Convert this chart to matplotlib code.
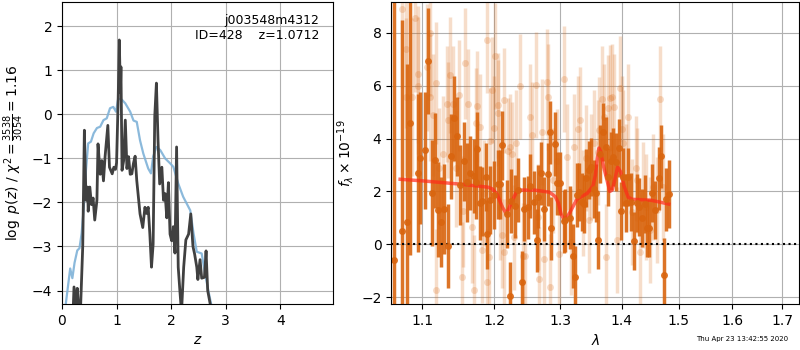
import matplotlib
matplotlib.use("Agg")
import matplotlib.pyplot as plt
from matplotlib.ticker import FixedLocator, FormatStrFormatter, NullLocator

# p(z) curves
z_chi = [0.06, 0.10, 0.15, 0.19, 0.23, 0.28, 0.32, 0.36, 0.40, 0.44, 0.48, 0.53, 0.58,
         0.64, 0.70, 0.76, 0.82, 0.88, 0.94, 0.99, 1.03, 1.10, 1.16, 1.25, 1.31, 1.37,
         1.43, 1.49, 1.58, 1.63, 1.67, 1.73, 1.80, 1.89, 1.98, 2.04, 2.13, 2.22, 2.35,
         2.41, 2.47, 2.56, 2.62, 2.68, 2.74, 2.80]
chi_val = [-4.4, -4.0, -3.5, -3.72, -3.37, -3.09, -3.04, -2.70, -2.09, -1.26, -0.66, -0.62,
           -0.43, -0.31, -0.28, -0.13, -0.09, 0.14, 0.17, 0.06, 0.36, 0.33, 0.25, 0.06,
           -0.14, -0.17, -0.59, -0.89, -1.23, -1.34, -0.96, -0.74, -0.81, -1.0, -1.11,
           -1.19, -1.57, -1.87, -2.18, -2.70, -3.12, -3.16, -3.61, -3.99, -4.35, -4.8]

z_pz = [0.20, 0.22, 0.26, 0.28, 0.31, 0.34, 0.38, 0.41, 0.44, 0.47, 0.48, 0.51, 0.54, 0.57,
        0.60, 0.64, 0.66, 0.70, 0.73, 0.76, 0.79, 0.84, 0.87, 0.92, 0.95, 0.98, 1.00, 1.03,
        1.05, 1.07, 1.08, 1.10, 1.13, 1.16, 1.19, 1.22, 1.25, 1.28, 1.31, 1.34, 1.37, 1.43,
        1.48, 1.52, 1.55, 1.58, 1.61, 1.64, 1.67, 1.70, 1.73, 1.76, 1.79, 1.83, 1.86, 1.89,
        1.92, 1.95, 1.98, 2.01, 2.04, 2.07, 2.10, 2.13, 2.16, 2.19, 2.23, 2.27, 2.32, 2.36,
        2.40, 2.43, 2.47, 2.49, 2.53, 2.56, 2.61, 2.64, 2.67, 2.70, 2.73, 2.76]
pz_val = [-4.6, -3.92, -4.4, -3.95, -4.5, -4.4, -3.0, -0.36, -1.95, -1.65, -2.2, -1.65,
          -2.05, -1.9, -2.4, -1.95, -0.67, -1.36, -1.05, -1.51, -0.95, -0.25, -1.2, -1.35,
          -1.2, -1.25, -1.1, 0.37, 1.69, 0.5, 1.08, -1.27, -1.05, -0.13, -1.23, -0.96,
          -1.36, -1.35, -1.11, -0.95, -1.5, -2.26, -2.57, -2.11, -2.25, -2.11, -2.72,
          -3.47, -2.95, -0.04, 0.71, -0.6, -1.58, -1.2, -1.95, -1.8, -2.35, -1.55, -2.72,
          -2.87, -2.55, -3.15, -0.74, -3.47, -4.0, -4.5, -3.47, -2.85, -2.72, -2.26, -3.0,
          -3.17, -3.47, -3.75, -3.3, -3.72, -3.7, -3.10, -4.0, -4.2, -4.4, -4.8]

# spectrum, good points
lam_a = [1.063, 1.073, 1.080, 1.084, 1.094, 1.097, 1.104, 1.108, 1.113, 1.117, 1.121, 1.125,
         1.129, 1.135, 1.139, 1.143, 1.147, 1.151, 1.157, 1.161, 1.165, 1.171, 1.174, 1.176,
         1.179, 1.183, 1.188, 1.190, 1.194, 1.199, 1.205, 1.208, 1.212, 1.218, 1.223, 1.224,
         1.230, 1.235, 1.241, 1.244, 1.250, 1.253, 1.259, 1.264, 1.265, 1.270, 1.274, 1.280,
         1.283, 1.286, 1.291, 1.295, 1.300, 1.305, 1.308, 1.315, 1.320, 1.323, 1.326, 1.329,
         1.334, 1.338, 1.341, 1.346, 1.349, 1.354, 1.357, 1.360, 1.364, 1.369, 1.374, 1.377,
         1.382, 1.385, 1.390, 1.395, 1.398, 1.402, 1.407, 1.411, 1.416, 1.421, 1.426, 1.430,
         1.435, 1.440, 1.444, 1.447, 1.453, 1.458, 1.465, 1.468, 1.473, 1.477, 1.482]
flux_a = [-0.6, 0.49, 0.83, 4.6, 2.7, 3.25, 3.55, 6.93, 1.93, 3.18, 1.3, 0.83, 1.33, -0.07,
          3.33, 4.77, 4.09, 2.24, 3.14, 2.35, 2.7, 2.58, 2.35, 3.6, 1.55, 1.63, 2.54, 0.38,
          1.67, 1.86, 2.27, 2.27, 3.74, 1.14, -1.97, 1.63, 1.44, 2.05, -1.44, 1.33, 1.4, 2.2,
          1.59, 0.15, 1.8, 2.69, 1.33, 2.65, 4.24, 0.6, 3.79, 2.31, 2.3, 0.87, 0.9, 1.0, -0.45,
          -1.25, 1.86, 1.97, 1.6, 1.52, 2.5, 2.8, 2.92, 2.08, 1.93, 0.15, 3.4, 4.24, 3.7, 2.54,
          3.14, 3.3, 3.1, 3.64, 1.25, 2.54, 1.55, 2.54, 1.59, 0.11, 1.55, 1.4, 1.0, 1.52, 0.6,
          0.6, 1.93, 1.28, 2.5, 3.33, -1.15, 1.7, 1.9]
err_a = [12.0, 8.0, 6.0, 5.0, 3.0, 2.5, 2.2, 2.0, 2.0, 1.8, 1.8, 1.7, 1.7, 1.6, 1.6, 1.6,
         1.5, 1.5, 1.5, 1.5, 1.4, 1.4, 1.4, 1.4, 1.4, 1.3, 1.3, 1.3, 1.3, 1.3, 1.3, 1.3, 1.3,
         1.3, 1.3, 1.2, 1.2, 1.2, 1.2, 1.2, 1.2, 1.2, 1.2, 1.2, 1.2, 1.2, 1.2, 1.2, 1.2, 1.2,
         1.2, 1.2, 1.2, 1.2, 1.2, 1.2, 1.2, 1.2, 1.2, 1.1, 1.1, 1.1, 1.1, 1.1, 1.1, 1.1, 1.1,
         1.1, 1.1, 1.1, 1.1, 1.1, 1.1, 1.1, 1.1, 1.1, 1.1, 1.1, 1.1, 1.1, 1.1, 1.1, 1.1, 1.1,
         1.1, 1.1, 1.1, 1.1, 1.1, 1.1, 1.2, 1.2, 1.4, 1.2, 1.3]

# spectrum, second beam (faint)
lam_b = [1.073, 1.078, 1.078, 1.087, 1.090, 1.094, 1.095, 1.107, 1.110, 1.110, 1.114, 1.118,
         1.119, 1.122, 1.128, 1.133, 1.135, 1.138, 1.142, 1.146, 1.150, 1.154, 1.156, 1.158,
         1.163, 1.168, 1.171, 1.174, 1.176, 1.179, 1.183, 1.185, 1.189, 1.190, 1.192, 1.194,
         1.197, 1.199, 1.201, 1.205, 1.206, 1.209, 1.211, 1.214, 1.215, 1.220, 1.223, 1.226,
         1.229, 1.232, 1.238, 1.242, 1.246, 1.253, 1.256, 1.262, 1.265, 1.267, 1.271, 1.274,
         1.279, 1.280, 1.283, 1.288, 1.294, 1.298, 1.305, 1.311, 1.316, 1.321, 1.328, 1.331,
         1.336, 1.341, 1.346, 1.349, 1.354, 1.360, 1.362, 1.367, 1.370, 1.374, 1.377, 1.380,
         1.384, 1.387, 1.392, 1.397, 1.400, 1.402, 1.407, 1.411, 1.418, 1.425, 1.426, 1.432,
         1.437, 1.442, 1.449, 1.454, 1.461, 1.467, 1.472]
flux_b = [8.9, 7.4, 5.57, 5.57, 8.55, 6.44, 6.0, 6.7, 8.0, 5.57, 4.9, -1.74, 6.1, 2.87, 3.4,
          5.3, 4.7, 6.4, 5.3, 2.87, 5.64, -1.25, 1.25, 6.86, 5.3, 0.64, -1.74, 4.58, 5.23,
          4.43, -0.23, 1.93, -1.44, 7.73, -0.49, 3.9, 5.83, 4.39, 7.12, 5.26, 4.96, 1.4, 0.34,
          5.45, -0.3, 3.53, 3.7, 3.4, 0.26, 3.83, 5.98, -0.45, -0.45, 4.81, 4.13, 6.02, 1.02,
          -1.33, 4.24, -0.57, 6.14, 5.57, -1.63, 2.42, 3.14, -0.38, 6.25, 3.3, 0.08, 3.68,
          4.36, 4.7, 1.55, 3.26, 0.91, 2.92, 3.83, 3.48, 4.32, 5.49, 4.81, -0.49, 5.15, 5.53,
          5.57, 5.19, 0.15, 5.9, 4.36, 3.83, 2.54, 4.81, 1.21, 2.87, 2.42, -0.3, 1.86, 1.40,
          0.53, 2.16, 1.29, 5.49, 2.16]
err_b = [3.0, 3.0, 3.0, 3.0, 2.8, 2.6, 2.6, 2.4, 2.4, 2.4, 2.3, 2.3, 2.3, 2.3, 2.2, 2.2, 2.2,
         2.2, 2.2, 2.2, 2.1, 2.1, 2.1, 2.1, 2.1, 2.1, 2.1, 2.1, 2.1, 2.0, 2.0, 2.0, 2.0, 2.0,
         2.0, 2.0, 2.0, 2.0, 2.0, 2.0, 2.0, 2.0, 2.0, 2.0, 2.0, 2.0, 2.0, 2.0, 2.0, 2.0, 2.0,
         2.0, 2.0, 2.0, 2.0, 2.0, 2.0, 2.0, 2.0, 2.0, 2.0, 2.0, 2.0, 2.0, 2.0, 2.0, 2.0, 2.0,
         2.0, 2.0, 2.0, 2.0, 2.0, 2.0, 2.0, 2.0, 2.0, 2.0, 2.0, 2.0, 2.0, 2.0, 2.0, 2.0, 2.0,
         2.0, 2.0, 2.0, 2.0, 2.0, 2.0, 2.0, 2.0, 2.0, 2.0, 2.0, 2.0, 2.0, 2.0, 2.0, 2.0, 2.0,
         2.0]

# best-fit model
lam_m = [1.071, 1.10, 1.15, 1.191, 1.197, 1.204, 1.208, 1.212, 1.218, 1.224, 1.232, 1.240,
         1.260, 1.283, 1.292, 1.297, 1.301, 1.305, 1.310, 1.316, 1.326, 1.343, 1.352, 1.356,
         1.359, 1.362, 1.365, 1.369, 1.374, 1.380, 1.384, 1.388, 1.393, 1.398, 1.404, 1.411,
         1.418, 1.449, 1.465, 1.482]
flux_m = [2.46, 2.40, 2.28, 2.16, 2.10, 1.90, 1.65, 1.4, 1.14, 1.5, 1.95, 2.05, 2.05, 1.97,
          1.80, 1.55, 1.15, 0.95, 1.0, 1.25, 1.7, 1.93, 2.2, 2.6, 3.2, 3.64, 3.5, 3.0, 2.54,
          2.0, 2.05, 2.4, 2.92, 2.75, 2.2, 1.78, 1.7, 1.67, 1.6, 1.52]

xticks_r = [1.1, 1.2, 1.3, 1.4, 1.5, 1.6, 1.7]

fig = plt.figure(figsize=(8, 3.5), dpi=100)
ax1 = fig.add_axes([0.0775, 0.131, 0.339, 0.863])
ax2 = fig.add_axes([0.489, 0.131, 0.51, 0.863])

ax1.plot(z_chi, chi_val, color='#7fb2d8', lw=1.6, alpha=0.9)
ax1.plot(z_pz, pz_val, color='0.25', lw=2)
ax1.set_xlim(0, 4.97)
ax1.set_ylim(-4.31, 2.55)
ax1.set_xticks([0, 1, 2, 3, 4])
ax1.set_yticks([-4, -3, -2, -1, 0, 1, 2])
ax1.grid(True)
ax1.set_xlabel(r'$z$')
ax1.set_ylabel(r'$\log\ p(z)$' + ' / ' + r'$\chi^2=\frac{3538}{3054}=1.16$')
ax1.text(0.95, 0.96, 'j003548m4312\nID=428    z=1.0712', transform=ax1.transAxes,
         ha='right', va='top', fontsize=9)

orange = '#d9650f'
ax2.errorbar(lam_b, flux_b, yerr=err_b, fmt='o', color=orange, alpha=0.22,
             ms=5, elinewidth=2.5, ecolor=orange, mew=0)
ax2.errorbar(lam_a, flux_a, yerr=err_a, fmt='o', color=orange, alpha=0.9,
             ms=5, elinewidth=2.5, ecolor=orange, mew=0)
ax2.plot(lam_m, flux_m, color='#ff2a1a', lw=2.5, alpha=0.7)
ax2.axhline(0, color='k', ls=':', lw=1.5)
ax2.set_xscale('log')
ax2.xaxis.set_major_locator(FixedLocator(xticks_r))
ax2.xaxis.set_major_formatter(FormatStrFormatter('%.1f'))
ax2.xaxis.set_minor_locator(NullLocator())
ax2.set_xlim(1.0595, 1.735)
ax2.set_ylim(-2.27, 9.17)
ax2.set_yticks([-2, 0, 2, 4, 6, 8])
ax2.grid(True)
ax2.set_xlabel(r'$\lambda$')
ax2.set_ylabel(r'$f_\lambda\times10^{-19}$')

fig.text(0.985, 0.03, 'Thu Apr 23 13:42:55 2020', ha='right', va='center', fontsize=5)

fig.savefig('out.png', dpi=100)
